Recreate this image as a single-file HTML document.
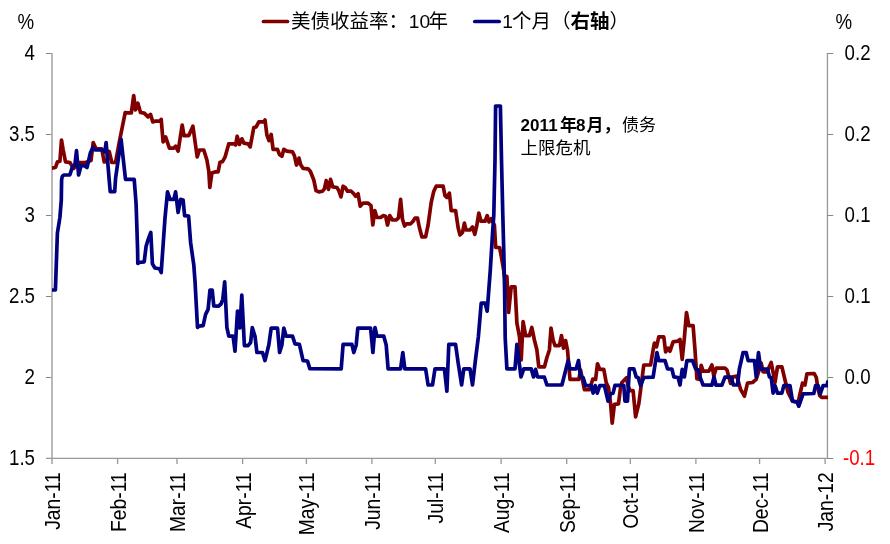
<!DOCTYPE html>
<html><head><meta charset="utf-8"><title>chart</title>
<style>
html,body{margin:0;padding:0;background:#fff;}
body{width:890px;height:544px;position:relative;overflow:hidden;font-family:"Liberation Sans",sans-serif;}
</style></head><body>
<svg width="890" height="544" viewBox="0 0 890 544" style="position:absolute;left:0;top:0;will-change:transform" font-family="Liberation Sans, sans-serif">
<rect x="51" y="53.0" width="2" height="411.0" fill="#b9b9b9"/>
<g stroke="#989898" stroke-width="1.3" fill="none">
<line x1="46" y1="458.45" x2="828" y2="458.45"/>
<line x1="117.6" y1="458.5" x2="117.6" y2="464.1"/>
<line x1="177.0" y1="458.5" x2="177.0" y2="464.1"/>
<line x1="242.6" y1="458.5" x2="242.6" y2="464.1"/>
<line x1="306.4" y1="458.5" x2="306.4" y2="464.1"/>
<line x1="371.9" y1="458.5" x2="371.9" y2="464.1"/>
<line x1="435.3" y1="458.5" x2="435.3" y2="464.1"/>
<line x1="501.1" y1="458.5" x2="501.1" y2="464.1"/>
<line x1="566.7" y1="458.5" x2="566.7" y2="464.1"/>
<line x1="630.3" y1="458.5" x2="630.3" y2="464.1"/>
<line x1="695.9" y1="458.5" x2="695.9" y2="464.1"/>
<line x1="759.6" y1="458.5" x2="759.6" y2="464.1"/>
<line x1="825.1" y1="458.5" x2="825.1" y2="464.1"/>
<line x1="827.45" y1="53.0" x2="827.45" y2="458.5"/>
</g>
<g stroke="#868686" stroke-width="1" fill="none">
<line x1="46" y1="53.5" x2="51.3" y2="53.5"/>
<line x1="46" y1="134.5" x2="51.3" y2="134.5"/>
<line x1="46" y1="215.5" x2="51.3" y2="215.5"/>
<line x1="46" y1="296.5" x2="51.3" y2="296.5"/>
<line x1="46" y1="377.5" x2="51.3" y2="377.5"/>
<line x1="827.5" y1="53.5" x2="833.3" y2="53.5"/>
<line x1="827.5" y1="134.5" x2="833.3" y2="134.5"/>
<line x1="827.5" y1="215.5" x2="833.3" y2="215.5"/>
<line x1="827.5" y1="296.5" x2="833.3" y2="296.5"/>
<line x1="827.5" y1="377.5" x2="833.3" y2="377.5"/>
<line x1="827.5" y1="458.5" x2="833.3" y2="458.5"/>
</g>
<g font-size="18.7" fill="#000">
<text transform="translate(35.0,59.9) scale(1,1.15)" text-anchor="end">4</text>
<text transform="translate(35.0,140.9) scale(1,1.15)" text-anchor="end">3.5</text>
<text transform="translate(35.0,221.9) scale(1,1.15)" text-anchor="end">3</text>
<text transform="translate(35.0,302.9) scale(1,1.15)" text-anchor="end">2.5</text>
<text transform="translate(35.0,383.9) scale(1,1.15)" text-anchor="end">2</text>
<text transform="translate(35.0,464.9) scale(1,1.15)" text-anchor="end">1.5</text>
<text transform="translate(844.6,59.9) scale(1,1.15)">0.2</text>
<text transform="translate(844.6,140.9) scale(1,1.15)">0.2</text>
<text transform="translate(844.6,221.9) scale(1,1.15)">0.1</text>
<text transform="translate(844.6,302.9) scale(1,1.15)">0.1</text>
<text transform="translate(844.6,383.9) scale(1,1.15)">0.0</text>
<text transform="translate(843.0,464.9) scale(1,1.15)" fill="#ff0000">-0.1</text>
<text transform="translate(17.5,29) scale(1,1.15)">%</text>
<text transform="translate(835.5,29) scale(1,1.15)">%</text>
<text font-size="19.3" transform="translate(59.6,472.3) rotate(-90) scale(1,1.145)" text-anchor="end">Jan-11</text>
<text font-size="19.3" transform="translate(125.6,472.3) rotate(-90) scale(1,1.145)" text-anchor="end">Feb-11</text>
<text font-size="19.3" transform="translate(185.0,472.3) rotate(-90) scale(1,1.145)" text-anchor="end">Mar-11</text>
<text font-size="19.3" transform="translate(250.6,472.3) rotate(-90) scale(1,1.145)" text-anchor="end">Apr-11</text>
<text font-size="19.3" transform="translate(314.4,472.3) rotate(-90) scale(1,1.145)" text-anchor="end">May-11</text>
<text font-size="19.3" transform="translate(379.9,472.3) rotate(-90) scale(1,1.145)" text-anchor="end">Jun-11</text>
<text font-size="19.3" transform="translate(443.3,472.3) rotate(-90) scale(1,1.145)" text-anchor="end">Jul-11</text>
<text font-size="19.3" transform="translate(509.1,472.3) rotate(-90) scale(1,1.145)" text-anchor="end">Aug-11</text>
<text font-size="19.3" transform="translate(574.7,472.3) rotate(-90) scale(1,1.145)" text-anchor="end">Sep-11</text>
<text font-size="19.3" transform="translate(638.3,472.3) rotate(-90) scale(1,1.145)" text-anchor="end">Oct-11</text>
<text font-size="19.3" transform="translate(703.9,472.3) rotate(-90) scale(1,1.145)" text-anchor="end">Nov-11</text>
<text font-size="19.3" transform="translate(767.6,472.3) rotate(-90) scale(1,1.145)" text-anchor="end">Dec-11</text>
<text font-size="19.3" transform="translate(833.1,472.3) rotate(-90) scale(1,1.145)" text-anchor="end">Jan-12</text>
</g>
<clipPath id="plot"><rect x="52.1" y="40" width="776" height="430"/></clipPath>
<g clip-path="url(#plot)">
<polyline points="51.0,168.2 55.5,167.5 57.4,161.9 59.9,161.3 61.5,140.0 63.2,150.0 65.5,161.9 69.9,162.5 71.8,165.6 73.6,168.4 79.2,162.5 85.5,162.5 91.0,160.6 93.2,142.5 96.0,148.8 101.8,148.8 104.2,161.9 106.8,161.5 109.2,151.5 111.8,162.5 115.5,162.5 119.7,140.0 125.2,112.6 131.3,113.0 133.7,95.6 135.5,110.0 137.9,103.2 140.5,112.5 144.2,113.1 148.0,116.9 150.5,114.4 152.8,121.9 155.0,121.2 160.0,121.2 161.2,119.4 163.1,141.9 165.6,136.9 169.4,148.1 173.8,148.1 175.6,146.2 178.1,151.2 182.2,125.0 184.0,135.6 188.8,135.6 192.9,126.2 197.2,156.9 199.4,150.0 203.8,150.0 206.9,160.0 208.8,171.2 209.8,187.5 211.9,173.1 215.0,171.9 218.1,171.9 220.0,162.2 222.5,161.6 225.0,157.2 228.8,143.8 234.4,143.8 235.6,145.0 237.2,136.2 239.4,144.4 241.9,138.8 243.8,143.1 248.1,143.8 250.2,146.9 253.8,127.5 256.2,126.9 258.8,121.9 263.8,121.7 265.0,120.0 266.9,135.0 269.0,140.6 271.2,134.4 273.1,149.4 277.5,149.4 279.4,154.4 281.9,156.2 283.8,149.4 286.9,151.2 292.5,151.9 294.4,155.6 296.5,165.0 299.0,158.1 300.6,164.4 303.1,168.4 308.1,168.8 310.3,171.2 313.8,180.0 316.0,190.6 318.8,191.9 322.5,191.2 324.4,188.8 326.2,180.6 328.5,189.4 330.6,179.4 332.8,186.9 336.9,187.5 338.8,190.6 341.0,196.9 343.1,186.2 345.2,187.5 347.5,191.2 351.2,191.2 353.8,193.8 355.6,196.2 358.1,193.8 360.2,206.2 363.1,203.1 368.1,203.1 371.0,205.6 372.8,225.0 374.8,210.6 376.9,217.5 380.6,217.5 383.1,215.6 385.6,216.2 387.5,225.0 389.8,215.6 392.5,220.0 396.2,220.0 398.5,217.8 400.6,199.4 402.5,219.4 404.6,226.0 406.6,223.8 410.6,223.8 413.1,221.2 415.0,218.1 417.5,218.1 419.4,227.5 421.9,236.9 425.6,236.9 428.1,225.0 431.2,202.5 433.8,191.2 436.2,186.2 443.1,186.2 445.0,195.6 446.9,197.5 449.4,193.1 451.2,210.6 455.6,210.6 458.1,227.5 460.0,235.0 462.5,232.5 464.4,223.1 466.0,230.0 470.0,230.0 472.5,226.9 474.8,234.4 476.9,225.0 478.8,213.1 481.0,221.2 485.0,221.2 487.2,215.6 489.0,221.9 491.2,218.8 494.4,225.0 495.7,247.5 499.6,247.5 501.4,257.0 503.8,271.0 505.2,282.0 506.9,276.5 508.6,312.5 511.2,286.9 515.0,286.9 516.9,323.1 519.4,336.2 521.2,360.0 523.1,321.6 525.6,335.6 529.4,335.6 531.8,327.5 534.4,340.0 536.9,350.0 538.8,366.9 544.4,366.9 546.9,357.5 549.4,350.0 551.0,328.1 553.1,340.0 555.0,345.6 559.4,345.6 561.5,335.6 563.5,348.1 565.6,340.6 567.5,350.0 570.0,379.4 578.8,379.4 580.6,370.0 584.4,389.7 589.5,389.7 592.8,379.0 595.6,379.4 597.5,363.8 599.8,369.4 603.8,369.4 606.2,382.5 608.5,387.5 610.6,403.8 612.2,423.1 614.4,404.4 618.5,403.8 620.5,388.0 621.9,382.5 626.5,377.8 628.1,386.0 630.0,390.6 633.1,390.6 635.6,416.9 638.8,403.8 643.8,365.0 650.6,365.0 653.1,350.0 654.4,343.1 656.5,346.9 658.8,336.9 663.8,336.9 665.6,351.9 668.1,348.1 670.0,351.2 673.1,341.9 677.5,341.2 680.0,339.4 682.2,359.4 684.4,337.5 686.5,312.5 688.8,325.6 693.1,325.6 695.0,350.0 696.9,378.8 699.4,379.4 701.2,365.3 703.1,371.2 708.8,371.2 711.9,365.0 713.8,376.0 716.2,368.1 725.0,368.1 727.0,370.0 730.6,383.4 733.0,376.8 736.9,376.2 740.6,389.4 744.4,396.2 747.5,383.1 752.5,382.5 756.2,379.4 761.2,363.1 763.1,371.9 766.9,371.9 771.2,362.5 775.0,382.5 777.5,366.9 781.9,366.9 785.0,380.0 788.1,392.5 792.5,401.2 798.2,402.2 800.2,393.0 802.5,383.1 805.0,385.0 806.9,373.8 814.2,373.5 816.3,377.5 817.8,388.0 819.8,395.7 821.6,397.3 829.0,397.3" fill="none" stroke="#800000" stroke-width="3.7" stroke-linejoin="round" stroke-linecap="round"/>
<polyline points="51.0,290.0 55.4,290.0 57.4,233.0 59.9,217.5 61.3,200.0 61.6,180.0 62.2,176.6 63.8,175.0 69.9,174.8 72.4,166.9 74.9,165.0 76.5,150.6 78.6,175.0 81.1,165.6 84.2,165.6 87.0,167.5 90.5,152.5 93.0,147.5 95.5,150.0 103.0,150.0 104.9,151.9 106.1,142.5 109.2,180.0 110.2,191.6 114.7,191.6 115.6,178.0 121.1,139.4 125.5,179.4 134.2,179.4 136.1,203.8 137.6,250.0 137.8,263.5 139.2,262.5 144.2,261.9 146.1,246.2 148.0,240.0 150.8,232.5 152.4,263.8 154.9,268.0 159.5,268.8 161.2,272.5 162.2,258.0 165.0,218.0 167.5,191.9 170.0,199.4 173.8,199.4 175.6,191.9 178.1,212.5 180.6,199.4 183.1,200.0 184.6,215.6 188.6,216.2 190.6,242.5 193.8,265.0 195.0,281.2 197.5,327.5 198.8,326.2 203.1,325.6 205.6,314.4 208.1,309.4 210.0,290.0 212.2,290.0 213.8,306.0 218.3,306.2 221.0,304.0 222.8,299.3 224.7,281.8 226.9,327.5 228.8,336.2 233.1,336.2 235.0,351.2 237.5,311.2 238.6,311.5 239.9,328.0 241.8,295.0 244.4,345.6 248.1,345.6 250.6,342.5 252.3,327.5 255.0,336.2 256.9,352.5 262.5,352.5 265.0,360.6 268.8,345.0 271.2,328.1 277.5,328.1 279.6,352.5 281.9,345.0 283.8,328.1 286.2,336.2 292.5,336.2 295.0,343.8 299.4,344.4 303.1,360.6 307.5,361.0 309.8,368.6 341.2,368.8 343.1,344.4 351.9,344.4 353.8,352.5 356.2,345.0 357.8,328.1 370.6,328.1 372.9,352.5 375.0,327.5 376.9,336.2 383.8,336.2 386.2,345.0 388.1,368.8 400.6,368.8 402.8,352.5 404.8,368.8 425.6,368.8 428.1,385.0 432.5,385.0 435.0,368.8 444.4,368.8 446.9,391.2 448.8,344.4 455.6,344.4 458.1,362.5 461.6,385.0 463.8,368.8 470.0,368.8 472.5,385.0 475.6,358.8 478.4,336.5 481.2,303.1 485.0,303.1 487.2,311.2 490.3,270.0 492.5,233.8 493.8,215.0 495.0,160.0 495.6,106.0 500.4,106.0 501.5,160.0 502.8,215.0 503.8,252.5 504.6,290.0 505.2,338.0 506.9,368.8 515.0,368.8 516.9,344.4 521.0,376.9 523.8,368.8 531.2,368.8 533.5,376.9 535.6,369.4 537.5,376.9 544.4,377.2 546.9,385.0 561.9,385.0 568.1,360.6 570.0,368.8 576.2,368.8 578.5,360.6 580.6,376.9 583.1,377.5 585.6,385.6 591.2,385.6 593.1,393.1 595.2,385.6 597.2,393.1 599.8,385.6 604.4,385.6 608.1,401.2 610.6,393.8 613.1,393.1 615.0,385.3 623.8,385.3 625.0,401.2 627.5,401.2 629.4,368.8 633.8,368.8 636.2,376.9 638.1,377.5 640.6,385.6 643.8,377.5 653.1,377.2 656.9,352.5 658.8,360.6 665.0,360.6 667.5,368.8 671.9,369.0 673.8,376.9 678.1,377.5 680.0,385.0 682.2,369.4 684.4,376.9 686.9,360.6 692.5,360.6 695.6,368.8 698.1,370.0 700.0,376.9 703.1,385.0 711.9,385.2 714.0,376.9 716.0,385.2 721.9,385.2 725.0,377.2 731.2,377.2 733.4,385.0 737.5,385.0 739.4,368.8 743.1,352.5 746.2,352.5 748.1,360.6 754.4,360.6 756.2,376.9 758.5,352.5 760.6,368.8 767.5,369.0 769.4,376.9 771.2,377.5 773.1,393.1 775.0,385.6 777.5,393.1 781.9,393.1 783.8,385.6 790.0,385.6 792.5,401.2 796.9,401.9 798.8,406.2 803.1,393.8 813.8,393.5 815.6,385.6 818.1,385.6 820.2,393.8 823.1,385.6 827.3,385.6 827.7,381.8" fill="none" stroke="#000080" stroke-width="3.7" stroke-linejoin="round" stroke-linecap="round"/>
</g>
<line x1="263.5" y1="21.5" x2="287.5" y2="21.5" stroke="#800000" stroke-width="3.7" stroke-linecap="round"/>
<line x1="474.8" y1="21.5" x2="499.2" y2="21.5" stroke="#000080" stroke-width="3.7" stroke-linecap="round"/>
<g font-family="'Liberation Sans', 'Noto Sans CJK SC', sans-serif" font-size="19.5" fill="#000">
<text x="291" y="28">美债收益率：</text>
<text x="428.5" y="28">年</text>
<text x="512" y="28">个月（<tspan font-weight="bold">右轴</tspan>）</text>
</g>
<text x="408.8" y="28.0" font-size="19.2">10</text>
<text x="502.2" y="28.0" font-size="19.2">1</text>
<g font-family="'Liberation Sans', 'Noto Sans CJK SC', sans-serif" fill="#000">
<text x="560" y="131" font-size="17" font-weight="bold">年</text>
<text x="586.5" y="131" font-size="17" font-weight="bold">月</text>
<text x="603.5" y="131" font-size="17" font-weight="bold">，</text>
<text x="622" y="131" font-size="17">债务</text>
<text x="520.6" y="153.5" font-size="17.5">上限危机</text>
</g>
<text x="520.6" y="131.0" font-size="17" font-weight="bold" textLength="37" lengthAdjust="spacing">2011</text>
<text x="576.0" y="131.0" font-size="17" font-weight="bold">8</text>
</svg>
</body></html>
